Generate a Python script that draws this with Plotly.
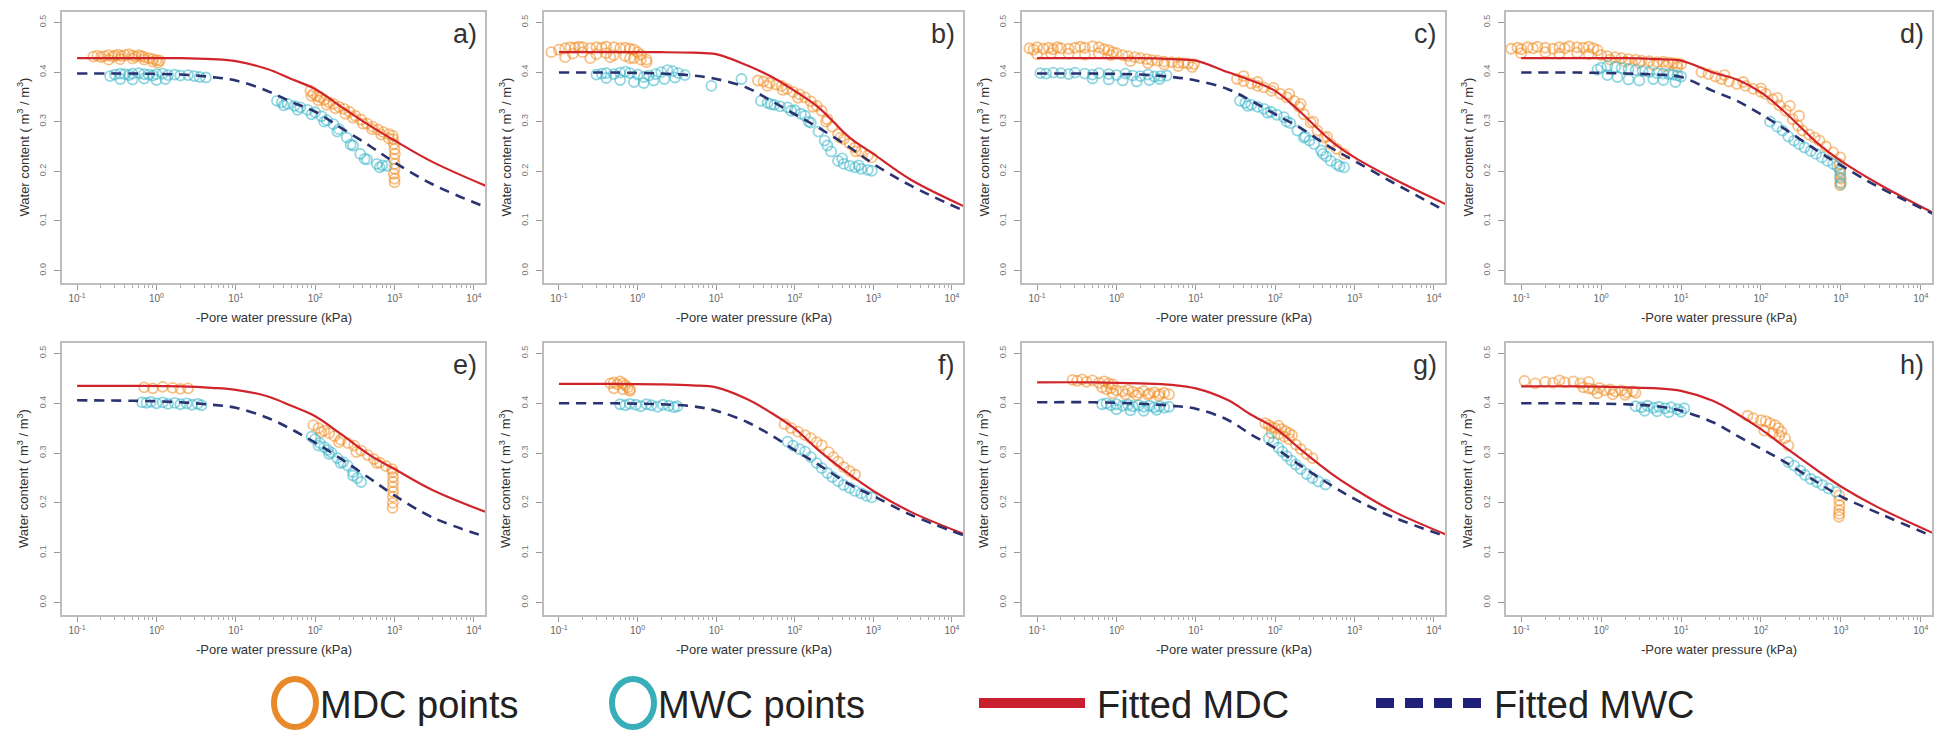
import plotly.graph_objects as go

W, H = 1944, 730

# ---------------- data ----------------
PANELS = ["a)", "b)", "c)", "d)", "e)", "f)", "g)", "h)"]
CURVE_P = [0.1, 0.5, 2, 5, 10, 25, 50, 100, 200, 500, 1000, 3000, 14000]

A_FIT_MDC = [.428, .428, .428, .426, .422, .406, .386, .366, .333, .291, .262, .219, .171]
A_FIT_MWC = [.397, .397, .395, .390, .383, .362, .340, .320, .290, .250, .218, .174, .128]
B_FIT_MDC = [.440, .440, .440, .439, .436, .413, .391, .362, .329, .268, .235, .183, .130]
B_FIT_MWC = [.399, .399, .397, .393, .386, .368, .342, .315, .288, .248, .215, .171, .121]
C_FIT_MDC = [.428, .428, .428, .426, .423, .400, .383, .362, .322, .262, .228, .186, .134]
C_FIT_MWC = [.397, .397, .395, .390, .383, .366, .342, .315, .289, .248, .221, .178, .120]
D_FIT_MDC = [.428, .428, .428, .426, .423, .399, .385, .359, .319, .258, .221, .174, .117]
D_FIT_MWC = [.399, .399, .397, .395, .390, .362, .342, .315, .285, .242, .212, .168, .115]
E_FIT_MDC = [.435, .435, .434, .431, .427, .414, .395, .374, .341, .295, .268, .226, .182]
E_FIT_MWC = [.406, .405, .402, .397, .391, .371, .348, .321, .291, .248, .215, .171, .132]
F_FIT_MDC = [.439, .439, .438, .436, .432, .408, .381, .349, .306, .257, .224, .182, .138]
F_FIT_MWC = [.400, .400, .398, .394, .385, .362, .336, .306, .277, .237, .214, .176, .135]
G_FIT_MDC = [.442, .442, .440, .437, .430, .407, .377, .350, .310, .260, .228, .184, .137]
G_FIT_MWC = [.402, .402, .399, .395, .389, .367, .337, .310, .277, .236, .208, .172, .133]
H_FIT_MDC = [.434, .434, .432, .430, .425, .405, .379, .348, .312, .266, .233, .190, .140]
H_FIT_MWC = [.400, .400, .398, .394, .385, .362, .335, .309, .282, .242, .213, .179, .133]

# measured points: pressure (kPa) and water content
A_MDC_P = [0.16, 0.18, 0.2, 0.22, 0.25, 0.28, 0.3, 0.33, 0.36, 0.4, 0.45, 0.5, 0.55, 0.6, 0.65, 0.7, 0.8, 0.9, 1.0, 1.1,
           0.25, 0.35, 0.5, 0.7, 0.9, 1.05,
           87, 95, 105, 115, 130, 150, 170, 200, 230, 270, 320, 380, 450, 530, 620, 720, 850, 950,
           90, 110, 140, 180, 240, 300, 400, 520, 680, 850,
           960, 980, 1000, 1010, 990, 1000, 1000, 980, 1000, 1000]
A_MDC_T = [.431, .433, .430, .432, .434, .431, .433, .435, .432, .434, .436, .433, .431, .434, .432, .430, .428, .426, .424, .423,
           .425, .426, .427, .425, .421, .419,
           .362, .356, .352, .349, .344, .339, .336, .330, .326, .320, .312, .304, .296, .290, .284, .279, .275, .272,
           .352, .343, .334, .327, .316, .308, .296, .285, .274, .266,
           .265, .255, .245, .235, .225, .215, .205, .195, .185, .178]
A_MWC_P = [0.26, 0.3, 0.35, 0.4, 0.45, 0.5, 0.6, 0.7, 0.8, 0.9, 1.0, 1.2, 1.4, 1.7, 2.0, 2.5, 3.0, 3.5, 4.2,
           0.35, 0.5, 0.7, 1.0, 1.3,
           33, 38, 45, 55, 65, 80, 100, 120, 140, 170, 200, 250, 300, 370, 450, 600, 700, 800,
           40, 60, 90, 130, 190, 280, 420, 650]
A_MWC_T = [.392, .395, .397, .396, .394, .397, .398, .396, .395, .393, .396, .397, .394, .395, .393, .394, .392, .390, .389,
           .386, .385, .387, .384, .386,
           .342, .339, .336, .332, .329, .324, .319, .311, .303, .295, .285, .268, .252, .235, .224, .215, .212, .211,
           .333, .324, .315, .300, .280, .254, .225, .208]

B_MDC_P = [0.08, 0.1, 0.12, 0.14, 0.16, 0.18, 0.2, 0.25, 0.3, 0.35, 0.4, 0.5, 0.6, 0.7, 0.8, 0.9, 1.0, 1.1, 1.3,
           0.15, 0.2, 0.3, 0.4, 0.5, 0.7, 0.9, 1.1, 1.3, 0.12, 0.25, 0.45, 0.8,
           34, 40, 48, 58, 68, 80, 95, 115, 135, 160, 190, 220, 260, 300, 355, 420, 500, 585, 700, 850, 950,
           45, 70, 110, 170, 250, 380, 600]
B_MDC_T = [.440, .445, .448, .450, .449, .451, .450, .448, .450, .449, .451, .450, .448, .449, .447, .445, .440, .435, .425,
           .437, .440, .436, .438, .434, .432, .428, .425, .420, .430, .428, .430, .428,
           .383, .381, .378, .375, .372, .366, .360, .355, .349, .341, .332, .322, .305, .290, .275, .265, .256, .248, .240, .232, .228,
           .372, .364, .348, .330, .300, .268, .240]
B_MWC_P = [0.3, 0.35, 0.4, 0.5, 0.6, 0.7, 0.8, 1.0, 1.2, 1.4, 1.7, 2.0, 2.4, 2.8, 3.3, 4.0,
           0.4, 0.6, 0.9, 1.2, 1.6, 2.2, 3.0,
           8.7, 21,
           37, 45, 55, 65, 81, 100, 120, 135, 160, 200, 240, 290, 355, 420, 500, 585, 700, 850, 955,
           50, 90, 150, 260, 400, 650]
B_MWC_T = [.395, .397, .398, .396, .399, .401, .398, .395, .390, .393, .396, .400, .404, .402, .398, .394,
           .388, .384, .380, .378, .383, .386, .389,
           .372, .386,
           .342, .338, .334, .331, .329, .323, .316, .312, .298, .280, .262, .240, .221, .215, .211, .208, .205, .203, .201,
           .335, .322, .300, .252, .226, .212]

C_MDC_P = [0.08, 0.09, 0.1, 0.12, 0.14, 0.16, 0.18, 0.2, 0.25, 0.3, 0.35, 0.4, 0.5, 0.6, 0.7, 0.8, 0.9,
           0.1, 0.15, 0.25, 0.4, 0.6, 0.85,
           1.0, 1.2, 1.4, 1.7, 2.0, 2.4, 2.8, 3.3, 4, 5, 6, 7, 8, 9.5,
           1.5, 2.5, 4, 6, 9,
           33, 40, 50, 60, 72, 90, 117, 140, 173, 200, 230, 280, 340, 420, 500, 600, 740,
           40, 60, 95, 150, 210, 300, 450]
C_MDC_T = [.448, .445, .450, .447, .449, .446, .450, .448, .447, .449, .451, .449, .452, .450, .446, .444, .440,
           .436, .438, .437, .435, .438, .434,
           .438, .434, .432, .430, .428, .426, .424, .423, .421, .420, .419, .418, .417, .416,
           .422, .418, .415, .412, .410,
           .386, .382, .377, .372, .369, .362, .356, .349, .342, .330, .315, .298, .282, .268, .255, .245, .235,
           .392, .380, .368, .356, .336, .300, .270]
C_MWC_P = [0.11, 0.13, 0.16, 0.2, 0.25, 0.3, 0.4, 0.5, 0.6, 0.8, 1.0, 1.3, 1.6, 2.0, 2.5, 3.0, 3.6, 4.3,
           0.5, 0.8, 1.2, 1.8, 2.6, 3.5,
           36, 42, 50, 60, 72, 88, 105, 129, 155, 190, 230, 270, 310, 380, 440, 500, 600, 740,
           45, 80, 140, 240, 400, 650]
C_MWC_T = [.398, .397, .399, .398, .396, .399, .397, .395, .398, .396, .394, .397, .393, .392, .395, .391, .392, .393,
           .387, .385, .383, .381, .384, .386,
           .342, .338, .334, .330, .326, .320, .314, .309, .297, .282, .268, .262, .255, .242, .230, .221, .214, .208,
           .332, .318, .300, .270, .235, .210]

D_MDC_P = [0.075, 0.09, 0.1, 0.12, 0.14, 0.16, 0.2, 0.25, 0.3, 0.35, 0.4, 0.5, 0.6, 0.7, 0.8, 0.9,
           0.1, 0.2, 0.3, 0.5, 0.7,
           1.0, 1.2, 1.5, 1.8, 2.2, 2.7, 3.2, 4, 5, 6, 7, 8, 9, 10,
           1.3, 2, 3, 4.5, 6.5, 9,
           18, 22, 27, 32, 40, 50, 64, 80, 100, 115, 140, 170, 205, 250, 290, 330, 400, 470, 540, 650, 800, 980,
           35, 60, 100, 160, 230, 300,
           960, 970, 990, 1000, 985, 975]
D_MDC_T = [.447, .449, .446, .450, .448, .451, .449, .447, .450, .448, .452, .450, .449, .451, .448, .444,
           .438, .440, .437, .439, .436,
           .434, .432, .430, .428, .426, .425, .423, .422, .420, .421, .419, .418, .417, .416,
           .425, .421, .418, .414, .412, .410,
           .400, .396, .391, .386, .381, .376, .372, .366, .360, .356, .345, .333, .322, .305, .292, .282, .274, .268, .262, .250, .238, .228,
           .394, .380, .367, .348, .332, .312,
           .215, .205, .195, .185, .178, .172]
D_MWC_P = [0.9, 1.0, 1.2, 1.5, 1.8, 2.2, 2.7, 3.3, 4, 5, 6, 7, 8, 9, 10,
           1.2, 1.6, 2.2, 3, 4.5, 6, 8.5,
           130, 160, 186, 220, 260, 300, 350, 420, 490, 580, 680, 800, 900, 980, 970, 1000]
D_MWC_T = [.405, .409, .412, .410, .408, .406, .404, .402, .400, .398, .397, .396, .395, .393, .391,
           .394, .390, .385, .383, .386, .384, .380,
           .300, .290, .282, .270, .262, .255, .248, .241, .235, .228, .221, .215, .210, .200, .188, .175]

E_MDC_P = [0.7, 0.9, 1.2, 1.6, 2.0, 2.5,
           95, 110, 130, 150, 175, 210, 260, 310, 380, 460, 550, 650, 780, 930,
           120, 200, 330, 600,
           950, 960, 955, 950, 960, 955, 950, 945]
E_MDC_T = [.432, .430, .433, .431, .429, .430,
           .356, .350, .345, .340, .334, .327, .320, .315, .305, .296, .288, .281, .274, .268,
           .342, .322, .302, .280,
           .262, .252, .242, .232, .222, .212, .200, .190]
E_MWC_P = [0.66, 0.75, 0.85, 1.0, 1.2, 1.4, 1.7, 2.0, 2.4, 2.8, 3.3, 3.7,
           90, 100, 115, 130, 145, 160, 190, 225, 257, 300, 340, 380,
           110, 150, 210, 300]
E_MWC_T = [.402, .401, .403, .400, .402, .399, .401, .398, .400, .397, .399, .396,
           .333, .328, .320, .312, .306, .301, .290, .282, .275, .262, .250, .242,
           .315, .298, .280, .255]

F_MDC_P = [0.45, 0.5, 0.55, 0.6, 0.65, 0.7, 0.75, 0.8, 0.5, 0.65, 0.8,
           74, 90, 110, 135, 160, 190, 220, 270, 310, 355, 420, 500, 585]
F_MDC_T = [.440, .442, .438, .444, .440, .436, .432, .428, .430, .428, .425,
           .358, .350, .343, .336, .330, .322, .316, .302, .292, .283, .272, .264, .257]
F_MWC_P = [0.6, 0.7, 0.8, 0.95, 1.1, 1.3, 1.5, 1.8, 2.1, 2.5, 2.9, 3.2,
           81, 95, 115, 135, 160, 190, 220, 260, 300, 355, 420, 500, 585, 700, 820, 955]
F_MWC_T = [.398, .396, .399, .397, .394, .398, .396, .393, .397, .395, .392, .394,
           .323, .315, .308, .303, .292, .280, .270, .260, .252, .244, .236, .230, .224, .219, .214, .211]

G_MDC_P = [0.28, 0.32, 0.37, 0.42, 0.5, 0.6, 0.7, 0.8, 0.9,
           0.66, 0.75, 0.85, 1.0, 1.2, 1.4, 1.6, 1.9, 2.2, 2.6, 3.0, 3.5, 4.0, 4.6,
           0.9, 1.3, 1.8, 2.5, 3.4,
           75, 83, 90, 100, 110, 120, 135, 150, 163, 182, 210, 250, 295,
           90, 110, 130, 150]
G_MDC_T = [.447, .445, .448, .443, .446, .441, .444, .440, .438,
           .432, .428, .430, .426, .424, .427, .423, .421, .425, .420, .422, .419, .421, .418,
           .420, .418, .416, .417, .415,
           .360, .356, .352, .350, .355, .348, .344, .340, .336, .317, .308, .298, .290,
           .340, .338, .333, .328]
G_MWC_P = [0.66, 0.75, 0.85, 1.0, 1.2, 1.4, 1.6, 1.9, 2.2, 2.6, 3.0, 3.5, 4.0, 4.6,
           1.0, 1.5, 2.2, 3.2,
           83, 95, 110, 123, 140, 160, 182, 210, 250, 295, 350, 430]
G_MWC_T = [.398, .400, .396, .398, .395, .397, .394, .396, .393, .395, .392, .394, .391, .393,
           .388, .386, .385, .387,
           .330, .322, .311, .303, .294, .285, .277, .268, .258, .250, .243, .237]

H_MDC_P = [0.11, 0.15, 0.2, 0.25, 0.3, 0.35, 0.45, 0.55, 0.7,
           0.6, 0.7, 0.8, 0.95, 1.1, 1.3, 1.5, 1.8, 2.1, 2.5, 2.7,
           0.9, 1.4, 2.0,
           68, 80, 100, 115, 130, 150, 165, 180, 200, 220,
           110, 140, 170,
           950, 955, 960, 950, 955, 945]
H_MDC_T = [.445, .440, .443, .441, .446, .442, .444, .440, .443,
           .432, .430, .428, .431, .426, .428, .424, .426, .422, .424, .421,
           .420, .418, .417,
           .375, .370, .366, .364, .360, .356, .350, .343, .330, .315,
           .345, .340, .335,
           .215, .205, .195, .185, .178, .172]
H_MWC_P = [2.7, 3.2, 3.8, 4.5, 5.3, 6.3, 7.5, 9, 11,
           3.5, 5, 7, 10,
           220, 260, 310, 355, 420, 500, 585, 700, 870]
H_MWC_T = [.394, .392, .395, .391, .393, .390, .392, .388, .390,
           .385, .384, .382, .383,
           .282, .275, .265, .256, .248, .242, .236, .229, .222]

FIT_MDC = [A_FIT_MDC, B_FIT_MDC, C_FIT_MDC, D_FIT_MDC, E_FIT_MDC, F_FIT_MDC, G_FIT_MDC, H_FIT_MDC]
FIT_MWC = [A_FIT_MWC, B_FIT_MWC, C_FIT_MWC, D_FIT_MWC, E_FIT_MWC, F_FIT_MWC, G_FIT_MWC, H_FIT_MWC]
MDC_P = [A_MDC_P, B_MDC_P, C_MDC_P, D_MDC_P, E_MDC_P, F_MDC_P, G_MDC_P, H_MDC_P]
MDC_T = [A_MDC_T, B_MDC_T, C_MDC_T, D_MDC_T, E_MDC_T, F_MDC_T, G_MDC_T, H_MDC_T]
MWC_P = [A_MWC_P, B_MWC_P, C_MWC_P, D_MWC_P, E_MWC_P, F_MWC_P, G_MWC_P, H_MWC_P]
MWC_T = [A_MWC_T, B_MWC_T, C_MWC_T, D_MWC_T, E_MWC_T, F_MWC_T, G_MWC_T, H_MWC_T]

X_TICKS = [0.1, 1, 10, 100, 1000, 10000]
X_TICKTEXT = ["10<sup>-1</sup>", "10<sup>0</sup>", "10<sup>1</sup>", "10<sup>2</sup>", "10<sup>3</sup>", "10<sup>4</sup>"]
Y_TICKS = [0, 0.1, 0.2, 0.3, 0.4, 0.5]
Y_TICKTEXT = ["0.0", "0.1", "0.2", "0.3", "0.4", "0.5"]
LEGEND_LABELS = ["MDC points", "MWC points", "Fitted MDC", "Fitted MWC"]

# ---------------- styling ----------------
C_MDC_PTS = "rgba(240,140,35,0.55)"
C_MWC_PTS = "rgba(55,180,200,0.55)"
C_FIT_MDC = "#D0242B"
C_FIT_MWC = "#2A3270"
BOX = "#BEBEBE"
FONT = "Liberation Sans, Arial, sans-serif"

COL_PX = [(62, 485), (544, 963), (1022, 1445), (1506, 1932)]
ROW_PX = [(12, 283), (343, 615)]

minor_vals = [k * 10.0 ** d for d in range(-1, 5) for k in range(2, 10) if k * 10.0 ** d < 14000]

fig = go.Figure()
layout = dict(width=W, height=H, margin=dict(l=0, r=0, t=0, b=0),
              paper_bgcolor="white", plot_bgcolor="white", showlegend=False,
              font=dict(family=FONT, color="#333"))
annotations = []
shapes = []

for i, lab in enumerate(PANELS):
    r, c = divmod(i, 4)
    x0, x1 = COL_PX[c]
    yt, yb = ROW_PX[r]
    n = i + 1
    xa = "x" if n == 1 else f"x{n}"
    ya = "y" if n == 1 else f"y{n}"
    fig.add_trace(go.Scatter(x=MDC_P[i], y=MDC_T[i], mode="markers", xaxis=xa, yaxis=ya,
                             marker=dict(symbol="circle-open", size=10, color=C_MDC_PTS,
                                         line=dict(width=1.8, color=C_MDC_PTS))))
    fig.add_trace(go.Scatter(x=MWC_P[i], y=MWC_T[i], mode="markers", xaxis=xa, yaxis=ya,
                             marker=dict(symbol="circle-open", size=10, color=C_MWC_PTS,
                                         line=dict(width=1.8, color=C_MWC_PTS))))
    fig.add_trace(go.Scatter(x=CURVE_P, y=FIT_MDC[i], mode="lines", xaxis=xa, yaxis=ya,
                             line=dict(color=C_FIT_MDC, width=2.2, shape="spline", smoothing=1.0)))
    fig.add_trace(go.Scatter(x=CURVE_P, y=FIT_MWC[i], mode="lines", xaxis=xa, yaxis=ya,
                             line=dict(color=C_FIT_MWC, width=2.6, dash="10px,7px", shape="spline", smoothing=1.0)))

    kx = "xaxis" if n == 1 else f"xaxis{n}"
    ky = "yaxis" if n == 1 else f"yaxis{n}"
    layout[kx] = dict(type="log", domain=[x0 / W, x1 / W], range=[-1.19, 4.14], anchor=ya,
                      showline=True, mirror=True, linecolor=BOX, linewidth=1.5,
                      ticks="outside", ticklen=5, tickcolor="#999", tickwidth=1,
                      tickvals=X_TICKS, ticktext=X_TICKTEXT,
                      tickfont=dict(size=10, color="#666"),
                      showgrid=False, zeroline=False,
                      minor=dict(ticks="outside", ticklen=3, tickcolor="#aaa", tickvals=minor_vals, showgrid=False))
    layout[ky] = dict(domain=[1 - yb / H, 1 - yt / H], range=[-0.025, 0.521], anchor=xa,
                      showline=True, mirror=True, linecolor=BOX, linewidth=1.5,
                      ticks="outside", ticklen=6, tickcolor="#999", tickwidth=1,
                      tickvals=Y_TICKS, ticktext=Y_TICKTEXT, tickangle=-90,
                      ticklabelstandoff=5,
                      tickfont=dict(size=9, color="#777"),
                      showgrid=False, zeroline=False)
    # panel label
    annotations.append(dict(text=lab, xref="paper", yref="paper", x=(x1 - 6) / W, y=1 - (yt + 22) / H,
                            xanchor="right", yanchor="middle", showarrow=False,
                            font=dict(size=27, color="#333")))
    # axis titles
    annotations.append(dict(text="-Pore water pressure (kPa)", xref="paper", yref="paper",
                            x=(x0 + x1) / 2 / W, y=1 - (yb + 34) / H, xanchor="center", yanchor="middle",
                            showarrow=False, font=dict(size=13, color="#333")))
    annotations.append(dict(text="Water content ( m<sup>3</sup> / m<sup>3</sup>)", xref="paper", yref="paper",
                            x=(x0 - 39) / W, y=1 - (yt + yb) / 2 / H, xanchor="center", yanchor="middle",
                            textangle=-90, showarrow=False, font=dict(size=13, color="#333")))

# ---------------- legend (drawn in paper space) ----------------
LY = 703
def py(v):
    return 1 - v / H

shapes.append(dict(type="circle", xref="paper", yref="paper", x0=274 / W, x1=316 / W,
                   y0=py(727), y1=py(679), line=dict(color="#E8892B", width=6)))
shapes.append(dict(type="circle", xref="paper", yref="paper", x0=612 / W, x1=654 / W,
                   y0=py(727), y1=py(679), line=dict(color="#38AEB8", width=6)))
shapes.append(dict(type="line", xref="paper", yref="paper", x0=979 / W, x1=1085 / W,
                   y0=py(LY), y1=py(LY), line=dict(color="#C8202E", width=10)))
shapes.append(dict(type="line", xref="paper", yref="paper", x0=1376 / W, x1=1481 / W,
                   y0=py(LY), y1=py(LY), line=dict(color="#1F2178", width=10, dash="18px,11px")))
for lx, txt in zip([318, 656, 1095, 1492], LEGEND_LABELS):
    annotations.append(dict(text=txt, xref="paper", yref="paper", x=lx / W, y=py(LY + 2),
                            xanchor="left", yanchor="middle", showarrow=False,
                            font=dict(size=38, color="#222",
                                      family="Liberation Sans Narrow, Arial Narrow, Liberation Sans, Arial")))

layout["annotations"] = annotations
layout["shapes"] = shapes
fig.update_layout(**layout)
fig.write_html("out.html")
